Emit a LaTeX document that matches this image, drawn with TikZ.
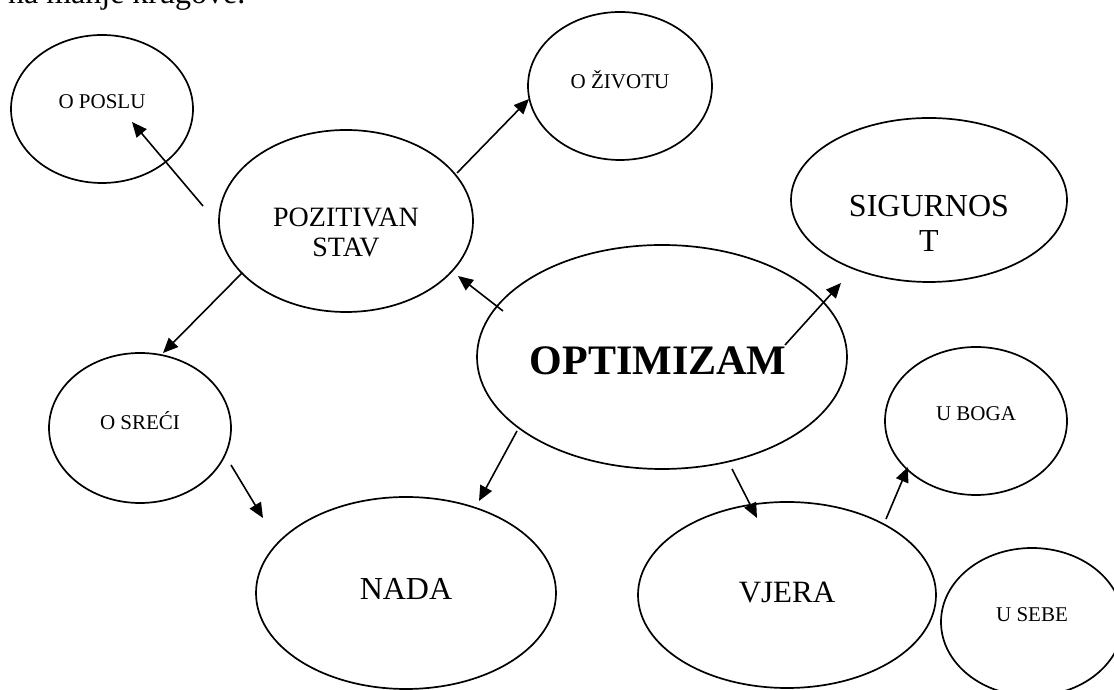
\documentclass[tikz,border=0pt]{standalone}
\usepackage{fontspec}
\setmainfont{Liberation Serif}
\usetikzlibrary{shapes.geometric,arrows.meta}
\tikzset{bubble/.style={draw,ellipse,line width=0.85pt,inner sep=0pt},
         small/.style={font=\fontsize{10.5}{12}\selectfont},
         big/.style={font=\fontsize{16}{17.5}\selectfont,align=center}
}
\tikzstyle{arrow} = [line width=0.8pt,->,>={Triangle[length=7.5pt,width=6.5pt]}]

\begin{document}
\begin{tikzpicture}[x=0.5pt,y=0.5pt]
\useasboundingbox (0,0) rectangle (1114,690);

\node[anchor=base west,font=\fontsize{16}{18}\selectfont] (intro) at (1,686) {na manje krugove.};

\node[bubble,minimum width=185pt,minimum height=112pt,label={[xshift=-2pt,yshift=-2pt,font=\bfseries\fontsize{21}{24}\selectfont]center:OPTIMIZAM}] (opt) at (662,333) {};
\node[bubble,minimum width=127pt,minimum height=91pt,label={[yshift=-5.5pt,font=\fontsize{14}{15}\selectfont,align=center]center:POZITIVAN\\STAV}] (poz) at (346,469) {};
\node[bubble,minimum width=138pt,minimum height=82pt,label={[big,yshift=-11.5pt]center:SIGURNOS\\T}] (sig) at (929,490) {};
\node[bubble,minimum width=150pt,minimum height=96pt,label={[big,yshift=2pt]center:NADA}] (nada) at (406,97) {};
\node[bubble,minimum width=149pt,minimum height=93pt,label={[font=\fontsize{15.5}{17}\selectfont,yshift=1pt]center:VJERA}] (vjera) at (787,95) {};
\node[bubble,minimum width=91pt,minimum height=74pt,label={[small,yshift=3.5pt]center:O POSLU}] (oposlu) at (102,581) {};
\node[bubble,minimum width=92pt,minimum height=74pt,label={[small,yshift=3pt]center:O ŽIVOTU}] (ozivotu) at (620,604) {};
\node[bubble,minimum width=91pt,minimum height=75pt,label={[small,yshift=3.5pt]center:O SREĆI}] (osreci) at (140,262) {};
\node[bubble,minimum width=91pt,minimum height=74pt,label={[small,yshift=3.5pt]center:U BOGA}] (uboga) at (976,269) {};
\node[bubble,minimum width=91pt,minimum height=74pt,label={[small,yshift=3.5pt]center:U SEBE}] (usebe) at (1032,68) {};

\draw[arrow] ([shift={(-159,46)}]opt.center)--([shift={(112,-55)}]poz.center);
\draw[arrow] ([shift={(-143,15)}]poz.center)--([shift={(30,-13)}]oposlu.center);
\draw[arrow] ([shift={(111,48)}]poz.center)--([shift={(-91,-13)}]ozivotu.center);
\draw[arrow] ([shift={(-104,-52)}]poz.center)--([shift={(23,75)}]osreci.center);
\draw[arrow] ([shift={(91,-37)}]osreci.center)--([shift={(-143,75)}]nada.center);
\draw[arrow] ([shift={(-145,-74)}]opt.center)--([shift={(73,92)}]nada.center);
\draw[arrow] ([shift={(70,-112)}]opt.center)--([shift={(-30,77)}]vjera.center);
\draw[arrow] ([shift={(123,12)}]opt.center)--([shift={(-88,-83)}]sig.center);
\draw[arrow] ([shift={(99,76)}]vjera.center)--([shift={(-68,-46)}]uboga.center);

\end{tikzpicture}
\end{document}
